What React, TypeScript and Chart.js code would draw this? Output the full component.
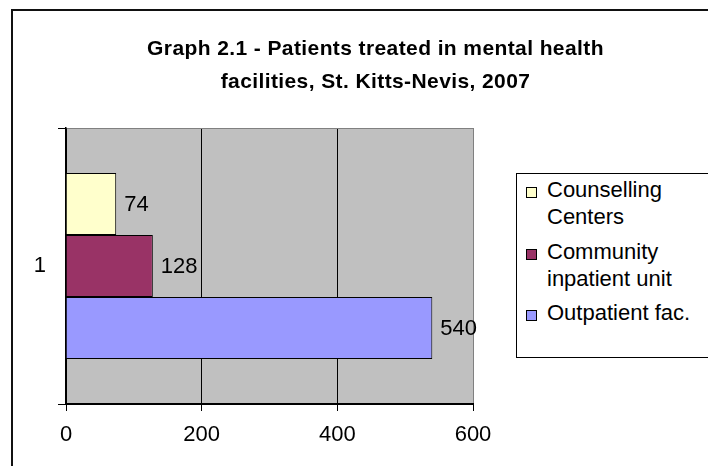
import React, { useEffect, useRef } from 'react';
import { Chart, registerables } from 'chart.js';

Chart.register(...registerables);

const categories = ['1'];
const seriesNames = ['Counselling Centers', 'Community inpatient unit', 'Outpatient fac.'];
const legendLines = [['Counselling', 'Centers'], ['Community', 'inpatient unit'], ['Outpatient fac.']];
const counselling = [74];
const community = [128];
const outpatient = [540];
const xTicks = [0, 200, 400, 600];
const titleLines = ['Graph 2.1 - Patients treated in mental health', 'facilities, St. Kitts-Nevis, 2007'];
const colors = ['#ffffcc', '#993366', '#9999ff'];

const FONT = '"Liberation Sans", Arial, sans-serif';

const plotBg = {
  id: 'plotBg',
  beforeDraw(chart: any) {
    const { ctx, chartArea: a } = chart;
    ctx.save();
    ctx.fillStyle = '#c0c0c0';
    ctx.fillRect(a.left, a.top, a.right - a.left, a.bottom - a.top);
    ctx.restore();
  },
};

const valueLabels = {
  id: 'valueLabels',
  afterDatasetsDraw(chart: any) {
    const { ctx } = chart;
    ctx.save();
    ctx.font = `22px ${FONT}`;
    ctx.fillStyle = '#000';
    ctx.textAlign = 'left';
    ctx.textBaseline = 'middle';
    chart.data.datasets.forEach((ds: any, i: number) => {
      const meta = chart.getDatasetMeta(i);
      meta.data.forEach((el: any, j: number) => {
        ctx.fillText(String(ds.data[j]), el.x + 8, el.y + 1);
      });
    });
    ctx.restore();
  },
};

export default function App() {
  const ref = useRef<HTMLCanvasElement>(null);
  useEffect(() => {
    if (!ref.current) return;
    const seriesData = [counselling, community, outpatient];
    const chart = new Chart(ref.current, {
      type: 'bar',
      data: {
        labels: categories,
        datasets: seriesNames.map((name, i) => ({
          label: name,
          data: seriesData[i],
          backgroundColor: colors[i],
          borderColor: '#000',
          borderWidth: 1,
          categoryPercentage: 0.674,
          barPercentage: 1,
        })),
      },
      options: {
        indexAxis: 'y',
        animation: false,
        responsive: false,
        devicePixelRatio: 1,
        layout: { padding: { left: 0, top: 128, right: 235, bottom: 0 } },
        plugins: {
          legend: { display: false },
          title: { display: false },
          tooltip: { enabled: false },
        },
        scales: {
          x: {
            min: 0,
            max: 600,
            afterBuildTicks: (s: any) => {
              s.ticks = xTicks.map((v) => ({ value: v }));
            },
            afterFit: (s: any) => {
              s.height = 62;
            },
            grid: {
              color: (c: any) => (c.tick && c.tick.value === 600 ? '#808080' : '#000'),
              tickColor: '#000',
              tickLength: 7,
              lineWidth: 1,
            },
            border: { color: '#000', width: 2 },
            ticks: {
              color: '#000',
              font: { family: FONT, size: 22 },
              padding: 11,
              maxRotation: 0,
            },
          },
          y: {
            afterFit: (s: any) => {
              s.width = 66;
            },
            grid: {
              offset: true,
              color: (c: any) => (c.index === 0 ? '#808080' : '#000'),
              tickColor: '#000',
              tickLength: 8,
            },
            border: { color: '#000', width: 1.5 },
            ticks: {
              color: '#000',
              font: { family: FONT, size: 22 },
              padding: 12,
            },
          },
        },
      },
      plugins: [plotBg, valueLabels],
    });
    return () => chart.destroy();
  }, []);

  const itemTops = [176, 238, 299];
  return (
    <div style={{ position: 'fixed', left: 0, top: 0, width: 708, height: 466, background: '#fff', overflow: 'hidden', fontFamily: FONT }}>
      <div style={{ position: 'absolute', left: 11, top: 9, width: 800, height: 600, borderLeft: '2px solid #111', borderTop: '2px solid #111' }} />
      <canvas ref={ref} width={708} height={466} style={{ position: 'absolute', left: 0, top: 0, width: 708, height: 466 }} />
      <div style={{ position: 'absolute', left: 0, top: 31, width: 751, textAlign: 'center', fontWeight: 'bold', fontSize: 21, letterSpacing: '0.4px', lineHeight: '33px', color: '#000' }}>
        {titleLines.map((t, i) => (
          <div key={i}>{t}</div>
        ))}
      </div>
      <div style={{ position: 'absolute', left: 516, top: 173, width: 250, height: 183, border: '1px solid #000', background: '#fff' }} />
      {legendLines.map((lines, i) => (
        <React.Fragment key={i}>
          <div style={{ position: 'absolute', left: 526, top: itemTops[i] + 11, width: 9, height: 9, border: '1px solid #000', background: colors[i] }} />
          <div style={{ position: 'absolute', left: 547, top: itemTops[i], fontSize: 22, lineHeight: '27px', color: '#000', whiteSpace: 'nowrap' }}>
            {lines.map((l, k) => (
              <div key={k}>{l}</div>
            ))}
          </div>
        </React.Fragment>
      ))}
    </div>
  );
}
